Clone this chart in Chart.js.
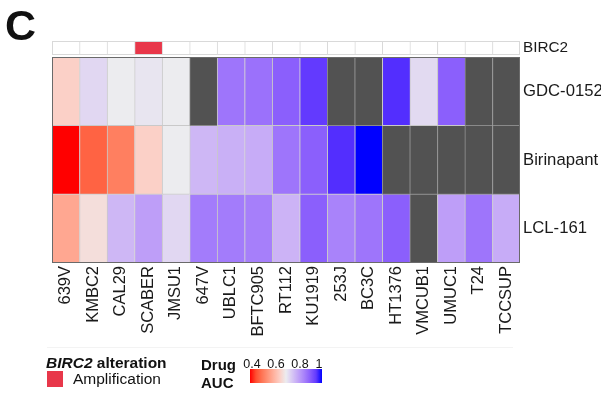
<!DOCTYPE html>
<html>
<head>
<meta charset="utf-8">
<script src="https://cdn.jsdelivr.net/npm/chart.js@4.4.1/dist/chart.umd.min.js"></script>
<style>
  body { margin: 0; background: #fff; }
  #wrap { position: relative; width: 601px; height: 395px; overflow: hidden; font-family: "Liberation Sans", Arial, sans-serif; color: #111; }
  #wrap div { position: absolute; line-height: 1; white-space: nowrap; }
  canvas { position: absolute; left: 0; top: 0; }
</style>
</head>
<body>
<div id="wrap">
  <canvas id="heat" width="601" height="395"></canvas>
  <div id="panel" style="left:5px; top:4px; font-size:43px; font-weight:bold;">C</div>
  <div id="sep" style="left:47px; top:347px; width:466px; height:1px; background:#f3f3f3;"></div>
  <div style="left:46px; top:355px; font-size:15.5px; font-weight:bold;"><i>BIRC2</i> alteration</div>
  <div style="left:47px; top:371px; width:16px; height:16px; background:#E8374A;"></div>
  <div style="left:73px; top:371px; font-size:15.5px;">Amplification</div>
  <div style="left:201px; top:357px; font-size:15px; font-weight:bold;">Drug</div>
  <div style="left:201px; top:375px; font-size:15px; font-weight:bold;">AUC</div>
  <div id="grad" style="left:250px; top:369px; width:72px; height:14px;"></div>
</div>
<script>
// Cell lines (columns) and drugs (rows)
const cellLines = ["639V","KMBC2","CAL29","SCABER","JMSU1","647V","UBLC1","BFTC905","RT112",
  "KU1919","253J","BC3C","HT1376","VMCUB1","UMUC1","T24","TCCSUP"];
const drugs = ["GDC-0152","Birinapant","LCL-161"];

// Drug AUC per cell line (null = not tested)
const gdc0152   = [0.65,0.73,0.70,0.71,0.70,null,0.87,0.875,0.90,0.95,null,null,0.965,0.725,0.90,null,null];
const birinapant = [0.40,0.475,0.515,0.65,0.70,0.775,0.785,0.79,0.87,0.90,0.965,1.0,null,null,null,null,null];
const lcl161    = [0.58,0.675,0.775,0.81,0.73,0.86,0.86,0.855,0.78,0.90,0.85,0.87,0.90,null,0.81,0.87,0.79];

// BIRC2 amplification (1 = amplified)
const birc2Amp = [0,0,0,1,0,0,0,0,0,0,0,0,0,0,0,0,0];
const aucTicks = [0.4,0.6,0.8,1];

const FONT = "'Liberation Sans', Arial, sans-serif";
const NA_COLOR = "#525252";

// colour ramp in Lab space: red -> light grey -> blue
function lin(c){ c/=255; return c<=0.04045 ? c/12.92 : Math.pow((c+0.055)/1.055,2.4); }
function unlin(c){ c = c<=0.0031308 ? 12.92*c : 1.055*Math.pow(c,1/2.4)-0.055; return Math.round(Math.min(1,Math.max(0,c))*255); }
function toLab(hex){
  const r=lin(parseInt(hex.slice(1,3),16)), g=lin(parseInt(hex.slice(3,5),16)), b=lin(parseInt(hex.slice(5,7),16));
  const X=(0.4124*r+0.3576*g+0.1805*b)/0.95047, Y=0.2126*r+0.7152*g+0.0722*b, Z=(0.0193*r+0.1192*g+0.9505*b)/1.08883;
  const f=t=>t>0.008856?Math.cbrt(t):7.787*t+16/116;
  return [116*f(Y)-16, 500*(f(X)-f(Y)), 200*(f(Y)-f(Z))];
}
function fromLab(L,a,b){
  const fy=(L+16)/116, fx=fy+a/500, fz=fy-b/200;
  const inv=t=>t*t*t>0.008856?t*t*t:(t-16/116)/7.787;
  const X=inv(fx)*0.95047, Y=inv(fy), Z=inv(fz)*1.08883;
  const r=3.2406*X-1.5372*Y-0.4986*Z, g=-0.9689*X+1.8758*Y+0.0415*Z, bb=0.0557*X-0.2040*Y+1.0570*Z;
  return "rgb("+unlin(r)+","+unlin(g)+","+unlin(bb)+")";
}
const rampVals = [0.4,0.7,1.0];
const rampLab = ["#FF0000","#ECECEF","#0000FF"].map(toLab);
function aucColor(v){
  if (v === null) return NA_COLOR;
  v = Math.min(1, Math.max(0.4, v));
  const i = v <= rampVals[1] ? 0 : 1;
  const t = (v - rampVals[i]) / (rampVals[i+1] - rampVals[i]);
  const A = rampLab[i], B = rampLab[i+1];
  return fromLab(A[0]+(B[0]-A[0])*t, A[1]+(B[1]-A[1])*t, A[2]+(B[2]-A[2])*t);
}

const yMax = 3.233, annoLo = 3.03;
const rows = [gdc0152, birinapant, lcl161];

const datasets = rows.map((vals, r) => ({
  label: drugs[r],
  data: vals.map(() => [2 - r, 3 - r]),
  backgroundColor: vals.map(aucColor),
  borderColor: vals.map(v => v === null ? "#8a8a8a" : "#c9c9c9"),
  borderWidth: {left: 1, top: 0, right: 0, bottom: 1},
  borderSkipped: false,
  barPercentage: 1, categoryPercentage: 1, grouped: false
}));
datasets.push({
  label: "BIRC2",
  data: birc2Amp.map(() => [annoLo, yMax]),
  backgroundColor: birc2Amp.map(a => a ? "#E8374A" : "#FFFFFF"),
  borderColor: "#d9d9d9",
  borderWidth: {left: 1, top: 0, right: 0, bottom: 0},
  borderSkipped: false,
  barPercentage: 1, categoryPercentage: 1, grouped: false
});

const frames = {
  id: "frames",
  afterDatasetsDraw(chart){
    const {ctx, chartArea: a, scales: {y}} = chart;
    ctx.save();
    ctx.lineWidth = 1;
    ctx.strokeStyle = "#d9d9d9";
    ctx.strokeRect(a.left + 0.5, Math.round(y.getPixelForValue(yMax)) + 0.5, a.right - a.left - 1, Math.round(y.getPixelForValue(annoLo) - y.getPixelForValue(yMax)) - 1);
    ctx.strokeStyle = "#6a6a6a";
    const t = Math.round(y.getPixelForValue(3)), b = Math.round(y.getPixelForValue(0));
    ctx.strokeRect(a.left + 0.5, t + 0.5, a.right - a.left - 1, b - t - 1);
    ctx.restore();
  }
};

const rowLabels = {2.5: drugs[0], 1.5: drugs[1], 0.5: drugs[2]};
rowLabels[(annoLo + yMax) / 2] = "BIRC2";

new Chart(document.getElementById("heat"), {
  type: "bar",
  data: { labels: cellLines, datasets },
  options: {
    responsive: false, animation: false,
    layout: { padding: { left: 52, top: 41, right: 0, bottom: 0 } },
    plugins: { legend: { display: false }, tooltip: { enabled: false } },
    scales: {
      x: {
        grid: { display: false, drawTicks: false }, border: { display: false },
        ticks: { autoSkip: false, minRotation: 90, maxRotation: 90, padding: 3, color: "#1a1a1a", font: { family: FONT, size: 16.5 } },
        afterFit: s => { s.height = 132; }
      },
      y: {
        position: "right", min: 0, max: yMax,
        grid: { display: false, drawTicks: false }, border: { display: false },
        afterBuildTicks: s => { s.ticks = Object.keys(rowLabels).map(v => ({ value: +v })); },
        ticks: {
          padding: 3, color: "#1a1a1a",
          callback: v => rowLabels[v],
          font: c => ({ family: FONT, size: c.tick && c.tick.value > 3 ? 15.3 : 16.7 })
        },
        afterFit: s => { s.width = 81; }
      }
    }
  },
  plugins: [frames]
});

// colour key
const stops = [];
for (let i = 0; i <= 12; i++) { const v = 0.4 + i * 0.05; stops.push(aucColor(v) + " " + (i / 12 * 100).toFixed(1) + "%"); }
document.getElementById("grad").style.background = "linear-gradient(to right, " + stops.join(", ") + ")";
const wrap = document.getElementById("wrap");
aucTicks.forEach(v => {
  const d = document.createElement("div");
  d.textContent = String(v);
  d.style.fontSize = "12.5px";
  d.style.top = "357.5px";
  d.style.left = Math.min(319, 252 + (v - 0.4) * 120) + "px";
  d.style.transform = "translateX(-50%)";
  wrap.appendChild(d);
});
</script>
</body>
</html>
